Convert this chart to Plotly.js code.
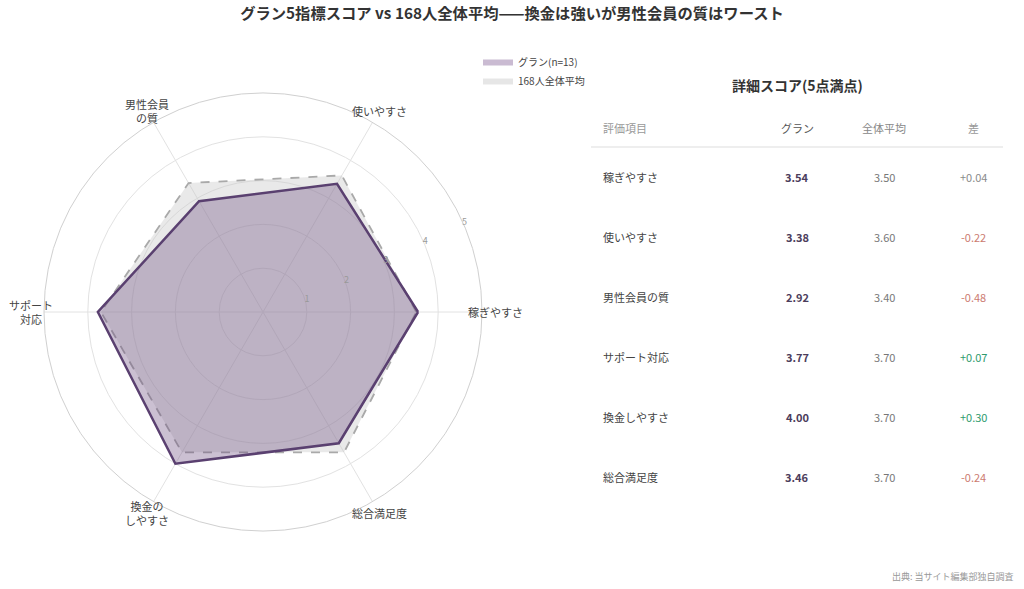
<!DOCTYPE html>
<html>
<head>
<meta charset="utf-8">
<script src="https://cdn.plot.ly/plotly-3.0.1.min.js"></script>
<style>
  html, body { margin: 0; padding: 0; background: #fff; }
  #chart { width: 1024px; height: 589px; }
</style>
</head>
<body>
<div id="chart"></div>
<script>
// 評価項目 (レーダー用ラベルと表用ラベル)
var axisLabels = ['稼ぎやすさ', '使いやすさ', '男性会員<br>の質', 'サポート<br>対応', '換金の<br>しやすさ', '総合満足度'];
var itemNames = ['稼ぎやすさ', '使いやすさ', '男性会員の質', 'サポート対応', '換金しやすさ', '総合満足度'];
var granScores = [3.54, 3.38, 2.92, 3.77, 4.00, 3.46];
var avgScores = [3.50, 3.60, 3.40, 3.70, 3.70, 3.70];
var tableHeader = ['評価項目', 'グラン', '全体平均', '差'];

function closeLoop(arr) { return arr.concat([arr[0]]); }

var FONT = '"Noto Sans CJK JP", "Noto Sans", sans-serif';
var W = 1024, H = 589;
function px(x) { return x / W; }
function py(y) { return 1 - y / H; }

// レーダーの位置 (px)
var CX = 263, CY = 312, R = 219, RMAX = 5;

// 差の列
var diffs = granScores.map(function(g, i) { return g - avgScores[i]; });
var diffText = diffs.map(function(d) {
  return (d >= 0 ? '+' : '-') + Math.abs(d).toFixed(2);
});
var diffColor = diffs.map(function(d) {
  if (Math.abs(d) < 0.05) return '#8a8a8a';
  return d > 0 ? '#2e9a6c' : '#cc7b70';
});

var traces = [
  {
    type: 'scatterpolar',
    r: closeLoop(avgScores),
    theta: closeLoop(axisLabels),
    fill: 'toself',
    fillcolor: 'rgba(200,200,200,0.4)',
    line: { color: '#a9a9a9', width: 1.8, dash: 'dash' },
    mode: 'lines',
    showlegend: false,
    hoverinfo: 'skip'
  },
  {
    type: 'scatterpolar',
    r: closeLoop(granScores),
    theta: closeLoop(axisLabels),
    fill: 'toself',
    fillcolor: 'rgba(110,80,130,0.36)',
    line: { color: '#5a4070', width: 2.5 },
    mode: 'lines',
    showlegend: false,
    hoverinfo: 'skip'
  },
  // 凡例用
  {
    type: 'scatterpolar',
    name: 'グラン(n=13)',
    r: [0], theta: [axisLabels[0]],
    mode: 'none', fill: 'toself',
    fillcolor: 'rgba(150,120,165,0.5)',
    legendrank: 1, hoverinfo: 'skip'
  },
  {
    type: 'scatterpolar',
    name: '168人全体平均',
    r: [0], theta: [axisLabels[0]],
    mode: 'none', fill: 'toself',
    fillcolor: 'rgba(200,200,200,0.45)',
    legendrank: 2, hoverinfo: 'skip'
  }
];

var annotations = [
  { xref: 'paper', yref: 'paper', x: px(797), y: py(85),
    xanchor: 'center', yanchor: 'middle',
    text: '<b>詳細スコア(5点満点)</b>', showarrow: false,
    font: { family: FONT, size: 14, color: '#333' } },
  { xref: 'paper', yref: 'paper', x: px(1016), y: py(576),
    xanchor: 'right', yanchor: 'middle', text: '出典: 当サイト編集部独自調査', showarrow: false,
    font: { family: FONT, size: 9, color: '#999' } }
];

// 軸ラベル (円の外側、r=5.3 の位置)
axisLabels.forEach(function(lab, i) {
  var a = i * 2 * Math.PI / axisLabels.length;
  var rr = 5.3 / RMAX * R;
  annotations.push({
    xref: 'paper', yref: 'paper',
    x: px(CX + rr * Math.cos(a)), y: py(CY - rr * Math.sin(a)),
    xanchor: 'center', yanchor: 'middle', align: 'center',
    text: lab, showarrow: false,
    font: { family: FONT, size: 11, color: '#444' }
  });
});

// 表 (注釈で描く)
var colX = [601, 797, 884, 973];
var colAnchor = ['left', 'center', 'center', 'center'];
var headerColor = ['#999', '#555', '#888', '#999'];
tableHeader.forEach(function(h, c) {
  annotations.push({
    xref: 'paper', yref: 'paper', x: px(colX[c]), y: py(128),
    xanchor: colAnchor[c], yanchor: 'middle', text: h, showarrow: false,
    font: { family: FONT, size: 11, color: headerColor[c] }
  });
});
itemNames.forEach(function(name, i) {
  var y = py(177 + 60 * i);
  var cells = [
    { text: name, color: '#444' },
    { text: '<b>' + granScores[i].toFixed(2) + '</b>', color: '#4c3d5c' },
    { text: avgScores[i].toFixed(2), color: '#777' },
    { text: diffText[i], color: diffColor[i] }
  ];
  cells.forEach(function(cell, c) {
    annotations.push({
      xref: 'paper', yref: 'paper', x: px(colX[c]), y: y,
      xanchor: colAnchor[c], yanchor: 'middle', text: cell.text, showarrow: false,
      font: { family: FONT, size: 11, color: cell.color }
    });
  });
});

var layout = {
  width: W,
  height: H,
  paper_bgcolor: '#fff',
  margin: { l: 0, r: 0, t: 0, b: 0 },
  font: { family: FONT, color: '#444' },
  title: {
    text: '<b>グラン5指標スコア vs 168人全体平均——換金は強いが男性会員の質はワースト</b>',
    font: { family: FONT, size: 15.3, color: '#333' },
    x: 0.5, xanchor: 'center',
    y: py(14), yanchor: 'middle'
  },
  showlegend: true,
  legend: {
    x: px(478), y: py(48), xanchor: 'left', yanchor: 'top',
    font: { family: FONT, size: 10, color: '#444' },
    itemwidth: 30,
    tracegroupgap: 0,
    bgcolor: 'rgba(0,0,0,0)'
  },
  polar: {
    domain: { x: [px(CX - R), px(CX + R)], y: [py(CY + R), py(CY - R)] },
    bgcolor: '#fff',
    radialaxis: {
      range: [0, RMAX],
      tickvals: [1, 2, 3, 4, 5],
      angle: 26,
      tickangle: 26,
      showline: false,
      ticks: '',
      gridcolor: '#e2e2e2',
      tickfont: { size: 9, color: '#999' },
      layer: 'above traces'
    },
    angularaxis: {
      rotation: 0,
      direction: 'counterclockwise',
      gridcolor: '#e2e2e2',
      linecolor: '#d0d0d0',
      ticks: '',
      showticklabels: false,
      layer: 'above traces'
    }
  },
  shapes: [
    { type: 'line', xref: 'paper', yref: 'paper',
      x0: px(591), x1: px(1003), y0: py(147), y1: py(147),
      line: { color: '#dddddd', width: 1 } }
  ],
  annotations: annotations
};

Plotly.newPlot('chart', traces, layout, { displayModeBar: false, staticPlot: true });
</script>
</body>
</html>
